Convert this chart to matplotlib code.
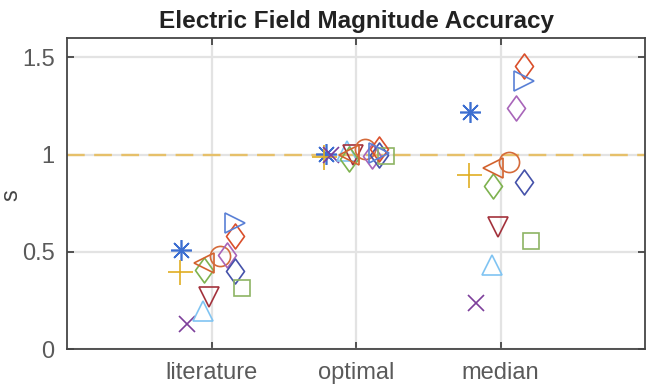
import matplotlib.pyplot as plt
import numpy as np
from matplotlib.path import Path

plt.rcParams["font.family"] = ["Liberation Sans", "DejaVu Sans"]

# groups on the x axis
groups = ["literature", "optimal", "median"]

# one entry per marker series: values at literature, optimal, median
star_blue = [0.51, 1.005, 1.217]
plus_yellow = [0.395, 0.99, 0.894]
x_purple = [0.13, 1.0, 0.236]
tri_up_lblue = [0.195, 1.02, 0.43]
tri_down_red = [0.27, 1.0, 0.627]
dia_green = [0.405, 0.975, 0.84]
tri_left_orange = [0.445, 1.0, 0.93]
circ_orange = [0.48, 1.03, 0.96]
dia_purple = [0.485, 0.995, 1.24]
dia_blue = [0.40, 1.0, 0.857]
sq_green = [0.315, 0.995, 0.555]
dia_orange = [0.58, 1.03, 1.455]
tri_right_blue = [0.65, 1.01, 1.377]

# horizontal offset of each series from its group tick
offsets = [-0.21, -0.22, -0.17, -0.06, -0.02, -0.05, -0.05,
           0.06, 0.11, 0.16, 0.21, 0.16, 0.16]

diamond = Path([(0, 1), (0.72, 0), (0, -1), (-0.72, 0), (0, 1)],
               [Path.MOVETO, Path.LINETO, Path.LINETO, Path.LINETO, Path.CLOSEPOLY])

series = [
    (star_blue, (8, 2, 0), "#3d6fd1", 15),
    (plus_yellow, "+", "#e0ae22", 18),
    (x_purple, "x", "#7d3f9b", 11),
    (tri_up_lblue, "^", "#80c4f2", 15),
    (tri_down_red, "v", "#a3323c", 15),
    (dia_green, diamond, "#7eb24f", 18),
    (tri_left_orange, "<", "#d2622e", 15),
    (circ_orange, "o", "#d56b3b", 14.5),
    (dia_purple, diamond, "#a865b9", 18),
    (dia_blue, diamond, "#4552aa", 18),
    (sq_green, "s", "#8db463", 12),
    (dia_orange, diamond, "#da4f2b", 18),
    (tri_right_blue, ">", "#5a80d6", 15),
]

fig = plt.figure(figsize=(6.47, 3.9), dpi=100)
ax = fig.add_axes([0.1036, 0.1051, 0.8933, 0.7975])

xpos = np.arange(1, len(groups) + 1)
ax.axhline(1, color="#e6c06a", lw=1.7, linestyle=(0, (7.5, 4)), zorder=2)

for (vals, marker, color, size), off in zip(series, offsets):
    ax.plot(xpos + off, vals, linestyle="none", marker=marker, markersize=size,
            markerfacecolor="none", markeredgecolor=color, markeredgewidth=1.2,
            zorder=3)

ax.set_xlim(0, 4)
ax.set_ylim(0, 1.6)
ax.set_xticks(xpos)
ax.set_xticklabels(groups)
ax.set_yticks([0, 0.5, 1, 1.5])
ax.set_yticklabels(["0", "0.5", "1", "1.5"])
ax.grid(True, color="#e3e3e3", lw=1.6)
ax.set_axisbelow(True)
ax.tick_params(direction="in", length=5, width=1.3, color="#454545",
               labelcolor="#5a5a5a", labelsize=17, top=True, right=True, pad=9)
for sp in ax.spines.values():
    sp.set_color("#454545")
    sp.set_linewidth(1.3)

ax.set_title("Electric Field Magnitude Accuracy", fontsize=17.5,
             fontweight="bold", color="#222222", pad=7)
fig.text(0.0, 0.5, "s", rotation=90, fontsize=17, color="#444444",
         ha="left", va="center")

fig.savefig("out.png", dpi=100)
